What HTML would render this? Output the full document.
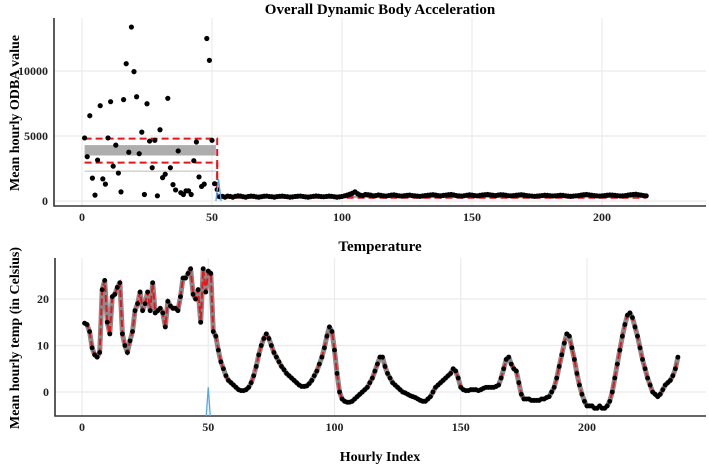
<!DOCTYPE html>
<html><head><meta charset="utf-8"><style>
body{margin:0;background:#fff}
svg{display:block;font-family:"Liberation Serif",serif;font-weight:bold}
</style></head><body>
<svg id="c" width="709" height="466" xmlns="http://www.w3.org/2000/svg"></svg>
<script>
const odbaEarly=[4850,3410,6560,1760,450,3150,7330,1700,1300,4850,7640,2680,4300,2150,700,7800,10560,3750,13380,9950,8020,3640,5300,500,7480,4610,2560,4670,400,5480,1800,2060,7900,2560,1260,850,3850,640,500,780,780,500,3100,4540,1850,1120,1300,12500,10820,4670,1330,880];
const odbaLate=[330,360,300,380,350,300,360,400,380,330,300,350,380,360,320,300,330,370,380,350,330,300,340,360,380,350,330,300,320,350,370,380,350,320,300,330,360,390,370,340,330,350,380,360,330,300,320,350,400,450,520,600,700,560,450,420,500,480,450,400,420,460,430,400,380,420,450,470,430,400,380,410,430,450,420,400,380,360,390,420,440,460,480,450,420,400,430,450,480,500,460,420,400,380,410,440,470,450,420,400,430,460,480,500,470,440,420,450,480,470,440,410,400,420,440,460,480,450,420,400,380,360,380,400,420,440,430,410,390,400,420,440,430,400,380,360,380,400,420,450,480,500,470,440,420,400,380,400,420,440,460,450,430,410,390,400,420,450,480,500,520,480,450,420,400];
const odbaFitLevels=[4800,2950];
const odbaBand=[3500,4300];
const odbaLowLine=2300;
const odbaLateFit=[250,400];
const odbaTicks=[0,5000,10000];
const xTicks=[0,50,100,150,200];
const temps=[14.8,14.5,13,9.5,8,7.5,8.5,22,24,15,12.5,20.5,21,22.5,23.5,12.5,10,8.5,11,13,17.5,19,21.5,17.5,19,21.5,17.5,23.5,17,17.5,18,17,14,19.5,18.5,18,18,17.5,20.5,24.5,24.5,25.5,26.5,21,20,22,15,26.5,21.5,26,25.5,13,12,9,6.5,5,3.5,2.5,2,1.5,1,0.5,0.3,0.3,0.5,1,2,3.5,5.5,8,10,11.5,12.5,11.5,10,8.5,7.5,6.5,5.5,4.8,4,3.5,3,2.5,2,1.5,1.2,1.2,1.3,1.8,2.5,3.5,4.5,6,7.5,9.5,12,14,13,9,4,0,-1.5,-2,-2.2,-2.2,-2,-1.5,-1,-0.5,0,0.5,1,2,3,4.5,6,7.5,7.5,5.5,4,3,2,1.5,1,0.5,0,-0.2,-0.5,-0.8,-1,-1.2,-1.5,-1.8,-2,-2,-1.5,-1,0,1,1.5,2,2.5,3,3.5,4,5,4.5,3,1,0.5,0.3,0.3,0.5,0.5,0.5,0.3,0.5,0.8,1,1,1,1,1.2,1.5,3,5,7,7.5,6,5,4.5,2,-0.5,-1.5,-1.5,-1.5,-1.8,-1.8,-1.8,-1.8,-1.5,-1.5,-1.2,-1,0,1,3,5.5,8,10.5,12.5,12,9.5,7,4,1.5,-0.5,-2,-3,-3,-3,-3.5,-3.5,-3,-3.5,-3.5,-3,-2,0,3,6,9,12,14.5,16.5,17,16,14,12,9.5,7,5,3,1.5,0,-0.5,-1,-0.5,0.5,1.5,2,2.5,3.5,5,7.5];
const tempTicks=[0,10,20];
const cpTop=52.5, cpBottom=50;

const NS="http://www.w3.org/2000/svg";
const svg=document.getElementById('c');
function mk(t,a,p){const e=document.createElementNS(NS,t);for(const k in a)e.setAttribute(k,a[k]);(p||svg).appendChild(e);return e;}
const xT=v=>82+v*2.6, yT=v=>201-v*0.013;
const xB=v=>82+v*2.525, yB=v=>392-v*4.65;

function panel(name,x0,x1,y0,y1,xs,ys,yticks){
  const g=mk('g',{});
  yticks.forEach(t=>{const l=mk('line',{x1:x0,x2:x1,y1:ys(t),y2:ys(t),stroke:'#ebebeb','stroke-width':1.2},g);
    const tx=mk('text',{x:x0-6,y:ys(t)+4,'text-anchor':'end','font-size':12,fill:'#222'},g);tx.textContent=t;});
  xTicks.forEach(t=>{const l=mk('line',{x1:xs(t),x2:xs(t),y1:y0,y2:y1,stroke:'#ebebeb','stroke-width':1.2},g);
    const tx=mk('text',{x:xs(t),y:y1+15,'text-anchor':'middle','font-size':12,fill:'#222'},g);tx.textContent=t;});
  const ax=mk('path',{d:`M${x0},${y0}V${y1}H${x1}`,fill:'none',stroke:'#333','stroke-width':1.6},g);
  return g;
}
const gT=panel('odba',54,706,18,206,xT,yT,odbaTicks);
const gB=panel('temp',55,706,258,416,xB,yB,tempTicks);

const nLate=odbaLate.length, nEarly=odbaEarly.length, nAll=nEarly+nLate;
let b=mk('rect',{x:xT(1),y:yT(odbaBand[1]),width:xT(51.5)-xT(1),height:yT(odbaBand[0])-yT(odbaBand[1]),fill:'#999',opacity:0.8});

let ll=mk('line',{x1:xT(1),x2:xT(51.5),y1:yT(odbaLowLine),y2:yT(odbaLowLine),stroke:'#bbb','stroke-width':1});

let lb=mk('rect',{x:xT(52),y:yT(odbaLateFit[1]),width:xT(nAll)-xT(52),height:yT(odbaLateFit[0])-yT(odbaLateFit[1]),fill:'#999'});

odbaFitLevels.forEach((v,i)=>{const p=mk('path',{d:`M${xT(1)},${yT(v)}H${xT(52)}V${yT(odbaLateFit[1-i])}H${xT(nAll)}`,fill:'none',stroke:'#e8141b','stroke-width':2,'stroke-dasharray':'7,4'});
  });
odbaEarly.concat(odbaLate).forEach((v,i)=>{const c=mk('circle',{cx:xT(i+1),cy:yT(v),r:2.6,fill:'#000'});
  });
let bl=mk('path',{d:`M${xT(cpTop-1)},${yT(0)}L${xT(cpTop)},${yT(1700)}L${xT(cpTop+1)},${yT(0)}`,fill:'none',stroke:'#56a8e8','stroke-width':1.3});


const ptsLine=temps.map((v,i)=>`${xB(i+1).toFixed(1)},${yB(v).toFixed(1)}`).join(' ');
let gb=mk('polyline',{points:ptsLine,fill:'none',stroke:'#8a8a8a','stroke-width':5,'stroke-linejoin':'round'});

let rl=mk('polyline',{points:ptsLine,fill:'none',stroke:'#e8141b','stroke-width':2,'stroke-dasharray':'7,3'});

temps.forEach((v,i)=>{const c=mk('circle',{cx:xB(i+1),cy:yB(v),r:2.4,fill:'#000'});
  });
let bl2=mk('path',{d:`M${xB(cpBottom-0.8)},416L${xB(cpBottom)},${yB(1)}L${xB(cpBottom+0.8)},416`,fill:'none',stroke:'#56a8e8','stroke-width':1.3});


function txt(s,a,name){const t=mk('text',a);t.textContent=s;}
txt('Overall Dynamic Body Acceleration',{x:380,y:14,'text-anchor':'middle','font-size':15},'odba-title');
txt('Temperature',{x:380,y:251,'text-anchor':'middle','font-size':15},'temp-title');
txt('Hourly Index',{x:380,y:461,'text-anchor':'middle','font-size':14},'x-axis-title');
txt('Mean hourly ODBA value',{x:0,y:0,'text-anchor':'middle','font-size':14,transform:'translate(19,113) rotate(-90)'},'odba-y-title');
txt('Mean hourly temp (in Celsius)',{x:0,y:0,'text-anchor':'middle','font-size':14,transform:'translate(19,338) rotate(-90)'},'temp-y-title');
</script>
</body></html>
